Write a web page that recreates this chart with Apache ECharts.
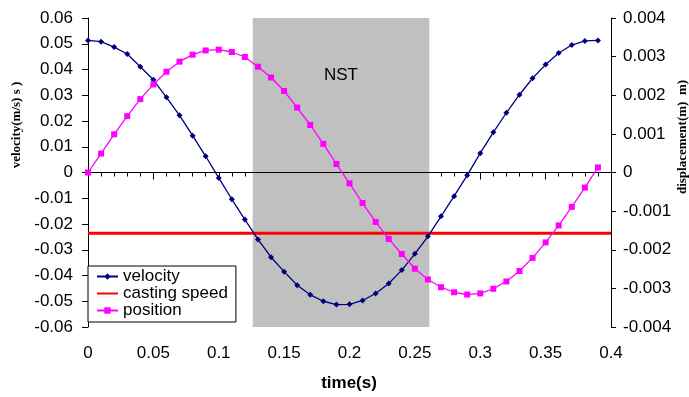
<!DOCTYPE html>
<html>
<head>
<meta charset="utf-8">
<script src="https://cdn.jsdelivr.net/npm/echarts@6/dist/echarts.min.js"></script>
<style>
  html, body { margin: 0; padding: 0; background: #fff; }
  #chart { width: 689px; height: 397px; }
</style>
</head>
<body>
<div id="chart"></div>
<script>
const times = [0, 0.01, 0.02, 0.03, 0.04, 0.05, 0.06, 0.07, 0.08, 0.09,
  0.10, 0.11, 0.12, 0.13, 0.14, 0.15, 0.16, 0.17, 0.18, 0.19,
  0.20, 0.21, 0.22, 0.23, 0.24, 0.25, 0.26, 0.27, 0.28, 0.29,
  0.30, 0.31, 0.32, 0.33, 0.34, 0.35, 0.36, 0.37, 0.38, 0.39]

// velocity (m/s), left axis
const velocity = [0.0513, 0.0508, 0.0487, 0.0460, 0.0411, 0.0360, 0.0292, 0.0222, 0.0143, 0.0063,
  -0.0021, -0.0104, -0.0183, -0.0260, -0.0329, -0.0385, -0.0438, -0.0475, -0.0500, -0.0513,
  -0.0512, -0.0497, -0.0470, -0.0431, -0.0379, -0.0316, -0.0248, -0.0170, -0.0092, -0.0011,
  0.0075, 0.0156, 0.0232, 0.0302, 0.0366, 0.0419, 0.0464, 0.0495, 0.0511, 0.0513]

// displacement (m), right axis
const position = [0.0000, 0.00049, 0.00099, 0.00146, 0.00190, 0.00228, 0.00261, 0.00287, 0.00305, 0.00316,
  0.00318, 0.00312, 0.00299, 0.00274, 0.00246, 0.00211, 0.00168, 0.00123, 0.00074, 0.00022,
  -0.00028, -0.00079, -0.00128, -0.00172, -0.00211, -0.00249, -0.00277, -0.00297, -0.00310, -0.00316,
  -0.00313, -0.00301, -0.00282, -0.00255, -0.00221, -0.00181, -0.00137, -0.00089, -0.00039, 0.00013]

const castingSpeed = -0.0236
const castingRange = [0, 0.4]
const nstRange = [0.126, 0.261]

const sans = 'Liberation Sans, Arial, sans-serif'
const serif = 'Liberation Serif, Times New Roman, serif'

const chart = echarts.init(document.getElementById('chart'), null, { renderer: 'canvas' })

const axisCommon = {
  axisLine: { show: true, lineStyle: { color: '#000', width: 1 } },
  axisTick: { show: true, inside: false, length: 6, lineStyle: { color: '#000' } },
  axisLabel: { color: '#000', fontFamily: sans, fontSize: 17 },
  splitLine: { show: false },
}

chart.setOption({
  animation: false,
  backgroundColor: '#fff',
  grid: { left: 88, right: 78, top: 18, bottom: 70, containLabel: false },
  legend: {
    orient: 'vertical',
    left: 88,
    top: 266,
    padding: [2, 8, 3, 8],
    itemGap: 0,
    itemWidth: 21,
    itemHeight: 8,
    backgroundColor: '#fff',
    borderColor: '#000',
    borderWidth: 1,
    borderRadius: 0,
    textStyle: { color: '#000', fontFamily: sans, fontSize: 17, lineHeight: 15, padding: [0, 0, 0, 0] },
    data: [
      'velocity',
      { name: 'casting speed', itemStyle: { opacity: 0 } },
      'position',
    ],
  },
  xAxis: {
    type: 'value',
    min: 0,
    max: 0.4,
    interval: 0.05,
    ...axisCommon,
    axisTick: { show: true, length: 7, lineStyle: { color: '#000' } },
    minorTick: { show: true, splitNumber: 5, length: 4, lineStyle: { color: '#000' } },
    axisLabel: { ...axisCommon.axisLabel, margin: 18 },
  },
  yAxis: [
    {
      type: 'value',
      min: -0.06,
      max: 0.06,
      interval: 0.01,
      position: 'left',
      ...axisCommon,
      axisLabel: { ...axisCommon.axisLabel, margin: 15 },
    },
    {
      type: 'value',
      min: -0.004,
      max: 0.004,
      interval: 0.001,
      position: 'right',
      ...axisCommon,
      axisTick: { show: true, length: 5, lineStyle: { color: '#000' } },
      axisLabel: { ...axisCommon.axisLabel, margin: 12 },
    },
  ],
  graphic: [
    {
      type: 'text', x: 17, y: 125, rotation: Math.PI / 2,
      style: { text: 'velocity(m/s) s )', font: 'bold 13px ' + serif, fill: '#000', align: 'center', verticalAlign: 'middle' },
    },
    {
      type: 'text', x: 683, y: 137, rotation: Math.PI / 2,
      style: { text: 'displacement(m)  m)', font: 'bold 13px ' + serif, fill: '#000', align: 'center', verticalAlign: 'middle' },
    },
    {
      type: 'text', x: 349, y: 383,
      style: { text: 'time(s)', font: 'bold 17px ' + sans, fill: '#000', align: 'center', verticalAlign: 'middle' },
    },
  ],
  series: [
    {
      name: 'velocity',
      type: 'line',
      yAxisIndex: 0,
      data: times.map((t, i) => [t, velocity[i]]),
      symbol: 'diamond',
      symbolSize: 6,
      lineStyle: { color: '#000080', width: 1.3 },
      itemStyle: { color: '#000080' },
      z: 5,
      markArea: {
        silent: true,
        itemStyle: { color: '#c0c0c0' },
        label: {
          show: true, position: 'insideTop', distance: 49,
          color: '#000', fontFamily: sans, fontSize: 17,
        },
        data: [[{ name: 'NST', xAxis: nstRange[0], yAxis: 0.06 }, { xAxis: nstRange[1], yAxis: -0.06 }]],
      },
      markLine: {
        silent: true,
        symbol: 'none',
        label: { show: false },
        lineStyle: { color: '#000', width: 1, type: 'solid' },
        data: [{ yAxis: 0 }],
      },
    },
    {
      name: 'casting speed',
      type: 'line',
      yAxisIndex: 0,
      data: castingRange.map(t => [t, castingSpeed]),
      symbol: 'none',
      lineStyle: { color: '#ff0000', width: 3 },
      itemStyle: { color: '#ff0000' },
      z: 4,
    },
    {
      name: 'position',
      type: 'line',
      yAxisIndex: 1,
      data: times.map((t, i) => [t, position[i]]),
      symbol: 'rect',
      symbolSize: 6,
      lineStyle: { color: '#ff00ff', width: 1.3 },
      itemStyle: { color: '#ff00ff' },
      z: 5,
    },
  ],
})
</script>
</body>
</html>
